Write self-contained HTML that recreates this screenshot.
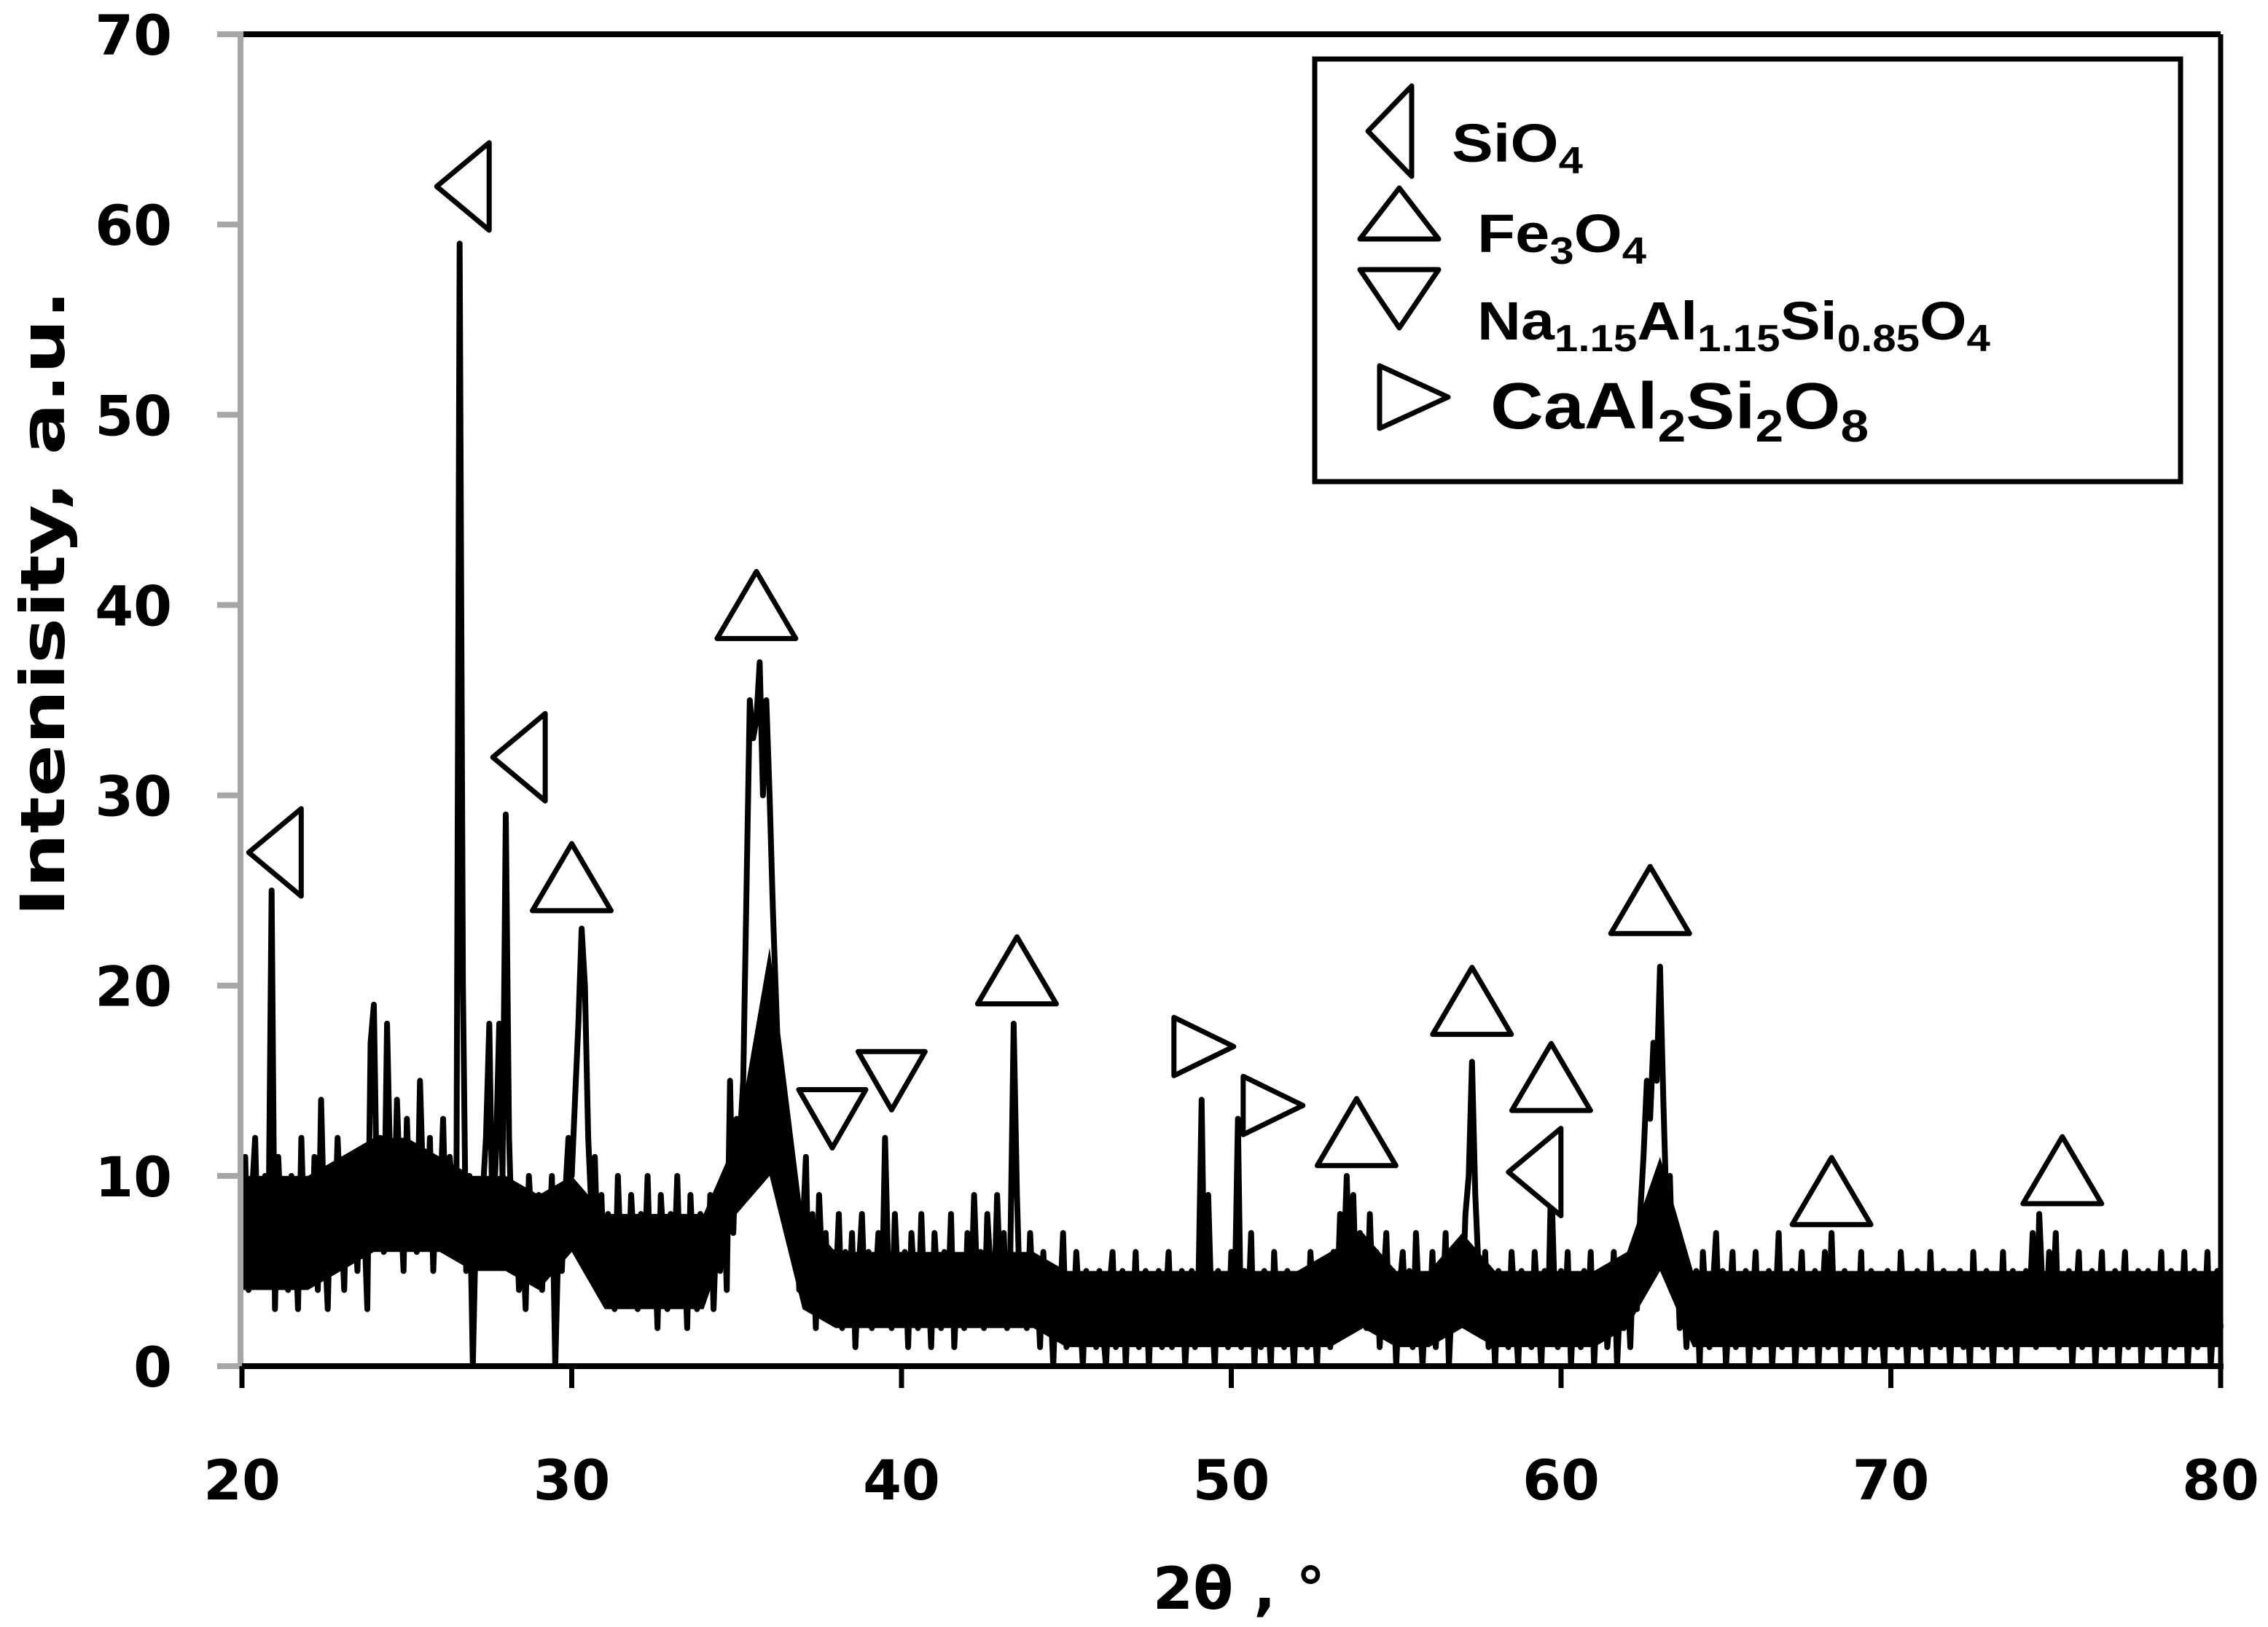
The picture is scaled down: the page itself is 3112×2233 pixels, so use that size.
<!DOCTYPE html>
<html><head><meta charset="utf-8"><title>XRD pattern</title>
<style>
html,body{margin:0;padding:0;background:#fff;}
svg{display:block;}
text{font-family:"DejaVu Sans","Liberation Sans",sans-serif;font-weight:bold;fill:#000;}
.leg{font-family:"Liberation Sans","DejaVu Sans",sans-serif;}
</style></head>
<body>
<svg id="chart" width="3112" height="2233" viewBox="0 0 3112 2233" xmlns="http://www.w3.org/2000/svg">
<g id="plot"></g>
<g id="axes"></g>
<g id="markers"></g>
<g id="legend">
  <rect x="1804" y="81" width="1188" height="580" fill="#fff" stroke="#000" stroke-width="7"/>
  <polygon points="1937,118 1877,180 1937,242" fill="none" stroke="#000" stroke-width="7" stroke-linejoin="round"/>
  <g transform="translate(1992,222) scale(1.15,1)"><text class="leg" x="0" y="0" font-size="74">SiO<tspan font-size="52" dy="16">4</tspan></text></g>
  <polygon points="1866,328 1920,258 1974,328" fill="none" stroke="#000" stroke-width="7" stroke-linejoin="round"/>
  <g transform="translate(2027,346) scale(1.15,1)"><text class="leg" x="0" y="0" font-size="74">Fe<tspan font-size="52" dy="16">3</tspan><tspan dy="-16">O</tspan><tspan font-size="52" dy="16">4</tspan></text></g>
  <polygon points="1866,370 1974,370 1920,450" fill="none" stroke="#000" stroke-width="7" stroke-linejoin="round"/>
  <g transform="translate(2027,466) scale(1.12,1)"><text class="leg" x="0" y="0" font-size="74">Na<tspan font-size="52" dy="16">1.15</tspan><tspan dy="-16">Al</tspan><tspan font-size="52" dy="16">1.15</tspan><tspan dy="-16">Si</tspan><tspan font-size="52" dy="16">0.85</tspan><tspan dy="-16">O</tspan><tspan font-size="52" dy="16">4</tspan></text></g>
  <polygon points="1893,502 1987,545 1893,588" fill="none" stroke="#000" stroke-width="7" stroke-linejoin="round"/>
  <g transform="translate(2045,588) scale(1.12,1)"><text class="leg" x="0" y="0" font-size="90">CaAl<tspan font-size="62" dy="18">2</tspan><tspan dy="-18">Si</tspan><tspan font-size="62" dy="18">2</tspan><tspan dy="-18">O</tspan><tspan font-size="62" dy="18">8</tspan></text></g>
</g>
<text x="0" y="0" font-size="84" text-anchor="middle" textLength="860" lengthAdjust="spacingAndGlyphs" transform="translate(88,828) rotate(-90)">Intenisity, a.u.</text>
<text x="1700" y="2208" font-size="80" text-anchor="middle">2θ , °</text>
</svg>
<script>
// ---- data ----
const xStart = 20;
const xStep = 0.1;
const intensity = [
7,11,4,9,12,5,8,10,6,25,3,11,7,9,4,10,8,3,12,6,
9,5,11,4,14,7,3,10,6,12,8,4,11,6,9,5,10,8,3,17,
19,8,12,6,18,10,7,14,9,5,13,8,11,6,15,9,7,12,5,10,
8,13,6,11,9,7,59,20,5,10,0,8,6,9,12,18,7,11,18,10,
29,12,6,9,4,8,3,10,7,5,9,4,8,6,10,0,7,5,9,12,
10,14,18,23,20,12,8,11,5,9,4,8,6,3,10,5,7,4,9,6,
3,8,5,10,4,7,2,9,6,3,8,5,10,4,7,2,9,5,3,8,
6,4,9,3,8,5,10,4,15,7,13,12,15,25,35,33,34,37,30,35,
30,24,19,14,11,8,10,6,9,4,7,11,3,8,2,9,5,7,3,6,
4,8,2,6,3,7,1,5,8,3,6,2,4,7,3,12,5,2,8,4,
3,6,1,7,4,2,8,3,5,1,7,4,2,6,3,8,1,5,4,2,
7,3,9,4,6,2,8,5,3,9,4,7,2,6,18,9,3,5,2,7,
3,5,1,6,2,4,0,5,3,7,1,4,2,6,3,0,5,2,4,1,
5,2,0,4,6,1,3,5,0,4,2,6,1,3,5,0,4,2,5,1,
3,6,1,4,2,5,0,3,5,1,4,14,2,9,3,0,5,2,4,1,
6,3,13,1,5,2,7,0,4,1,5,3,0,6,2,4,1,5,3,0,
4,2,5,1,6,3,0,5,2,4,1,6,3,8,5,10,4,9,3,7,
5,2,8,3,6,1,4,7,2,5,0,4,6,2,5,1,7,3,0,4,
2,6,1,5,3,7,0,4,2,6,3,8,10,16,9,5,2,6,1,4,
0,5,2,4,1,6,3,0,5,2,4,1,6,3,0,5,2,10,4,1,
5,2,6,0,4,3,1,5,2,6,0,4,2,5,1,3,6,0,4,2,
5,1,6,3,8,11,15,13,17,15,21,14,8,10,4,6,2,5,1,4,
2,5,0,6,3,1,4,7,2,5,0,3,6,1,4,2,5,0,3,6,
1,4,2,5,0,3,7,1,4,2,5,0,3,6,1,4,2,5,0,3,
6,1,7,2,4,0,5,3,1,4,2,6,0,3,5,1,4,2,0,5,
2,4,1,6,3,0,4,2,5,1,3,0,6,2,4,1,5,3,0,4,
2,5,1,3,0,6,2,4,1,5,3,0,4,2,6,1,3,5,0,4,
2,5,3,7,1,8,4,2,6,3,7,1,4,2,5,0,3,6,1,4,
2,5,0,3,6,1,4,2,5,0,3,6,1,4,2,5,0,3,5,1,
4,2,6,0,3,5,1,4,2,6,0,3,5,1,4,2,6,0,3,5,
2];
// dense noise core band (per degree, 20..80)
const coreLow  = [4,4,4,5,6,6,6,5,5,4,6,3,3,3,3,8,10,3,2,2,2,2,2,2,2,1,1,1,1,1,1,1,1,1,2,1,1,2,1,1,1,1,2,5,1,1,1,1,1,1,1,1,1,1,1,1,1,1,1,1,1];
const coreHigh = [10,10,10,11,12,12,11,10,10,9,10,8,8,8,8,12,22,8,6,6,6,6,6,6,6,5,5,5,5,5,5,5,5,6,7,5,5,7,5,5,5,5,6,11,5,5,5,5,5,5,5,5,5,5,5,5,5,5,5,5,5];
const xTicks = [20,30,40,50,60,70,80];
const yTicks = [0,10,20,30,40,50,60,70];
const markerX = [21.0,26.7,28.4,59.2, 30.0,35.6,43.5,53.8,57.3,59.7,62.7,68.2,75.2, 37.9,39.7, 49.1,51.2];
const markerY = [27,62,32,10.2, 25.7,40,20.8,12.3,19.2,15.2,24.5,9.2,10.3, 13,15, 16.8,13.7];
const markerType = ["left","left","left","left","up","up","up","up","up","up","up","up","up","down","down","right","right"];

// ---- axes ----
const X0=332, X1=3047, Y0=1875, Y1=47;
const xs = v => X0 + (v-20)/(80-20)*(X1-X0);
const ys = v => Y0 - (v-0)/(70-0)*(Y0-Y1);
const NS="http://www.w3.org/2000/svg";
function mk(tag, attrs, parent){const e=document.createElementNS(NS,tag);for(const k in attrs)e.setAttribute(k,attrs[k]);parent.appendChild(e);return e;}
const plot=document.getElementById('plot'), axes=document.getElementById('axes'), mg=document.getElementById('markers');

// frame
let fr=mk('line',{x1:X0,y1:Y1,x2:X1,y2:Y1,stroke:'#000','stroke-width':8},axes);


fr=mk('line',{x1:X1,y1:Y1,x2:X1,y2:Y0,stroke:'#000','stroke-width':7},axes);



// dense core band
let pts=[];
coreHigh.forEach((v,i)=>pts.push(xs(20+i).toFixed(1)+','+ys(v).toFixed(1)));
for(let i=coreLow.length-1;i>=0;i--) pts.push(xs(20+i).toFixed(1)+','+ys(coreLow[i]).toFixed(1));
const band=mk('polygon',{points:pts.join(' '),fill:'#000'},plot);



// series
let d='';
intensity.forEach((v,i)=>{const x=xs(xStart+i*xStep), y=ys(v); d+=(i?'L':'M')+x.toFixed(1)+','+y.toFixed(1);});
const path=mk('path',{d:d,fill:'none',stroke:'#000','stroke-width':8,'stroke-linejoin':'round'},plot);



// y axis (gray)
let ax=mk('line',{x1:X0-2,y1:Y1-4,x2:X0-2,y2:Y0,stroke:'#a6a6a6','stroke-width':8},axes);


yTicks.forEach(t=>{
  const y=ys(t);
  const tk=mk('line',{x1:X0-34,y1:y,x2:X0,y2:y,stroke:'#a6a6a6','stroke-width':8},axes);
  
  
  const tx=mk('text',{x:236,y:y+28,'font-size':76,'text-anchor':'end'},axes);
  tx.textContent=t;
  
  
});
// x axis
ax=mk('line',{x1:X0,y1:Y0,x2:X1+4,y2:Y0,stroke:'#000','stroke-width':8},axes);


xTicks.forEach(t=>{
  const x=xs(t);
  const tk=mk('line',{x1:x,y1:Y0,x2:x,y2:Y0+30,stroke:'#000','stroke-width':7},axes);
  
  
  const tx=mk('text',{x:x,y:2058,'font-size':76,'text-anchor':'middle'},axes);
  tx.textContent=t;
  
  
});

// phase markers
markerX.forEach((mx,i)=>{
  const cx=xs(mx), cy=ys(markerY[i]); let p2;
  const t=markerType[i];
  if(t==='up') p2=[[cx-54,cy+46],[cx,cy-46],[cx+54,cy+46]];
  else if(t==='down') p2=[[cx-46,cy-40],[cx+46,cy-40],[cx,cy+40]];
  else if(t==='left') p2=[[cx+36,cy-60],[cx-36,cy],[cx+36,cy+60]];
  else p2=[[cx-38,cy-40],[cx+44,cy],[cx-38,cy+40]];
  const p=mk('polygon',{points:p2.map(a=>a[0].toFixed(1)+','+a[1].toFixed(1)).join(' '),fill:'#fff',stroke:'#000','stroke-width':7,'stroke-linejoin':'round'},mg);
  
  
});
</script>
</body></html>
